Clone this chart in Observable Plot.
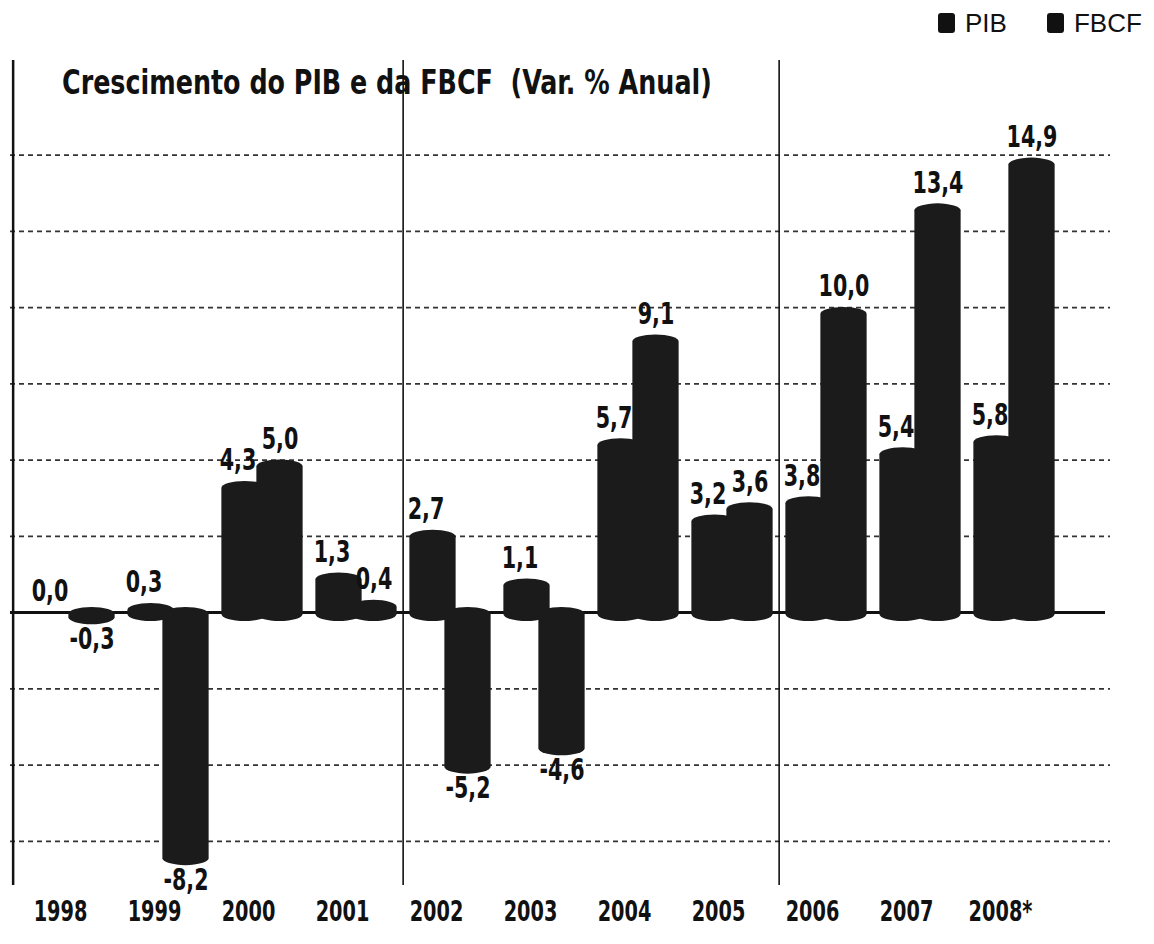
<!DOCTYPE html>
<html><head><meta charset="utf-8">
<script src="https://cdn.jsdelivr.net/npm/d3@7"></script>
<script src="https://cdn.jsdelivr.net/npm/@observablehq/plot@0.6"></script>
<style>
body{margin:0;background:#fff;}
#wrap{position:relative;width:1154px;height:944px;overflow:hidden;}
#chart{position:absolute;left:0;top:0;}
#title{position:absolute;left:62px;top:66px;font-family:"DejaVu Sans Condensed","Liberation Sans",sans-serif;font-weight:bold;font-size:33px;line-height:1;white-space:pre;color:#111;transform:scaleX(0.855);transform-origin:0 0;}
#legend{position:absolute;left:938px;top:10px;display:flex;align-items:center;font-family:"Liberation Sans",Arial,sans-serif;font-size:26px;line-height:1;color:#111;}
#legend .sw{display:inline-block;width:17px;height:20px;background:#111;border-radius:3px;margin-right:10px;}
#legend .item{display:flex;align-items:center;margin-right:40px;}
</style></head>
<body><div id="wrap"><div id="chart"></div><div id="title"></div><div id="legend"></div></div>
<script>
const years = ["1998","1999","2000","2001","2002","2003","2004","2005","2006","2007","2008*"];
const pib  = [0.0, 0.3, 4.3, 1.3, 2.7, 1.1, 5.7, 3.2, 3.8, 5.4, 5.8];
const fbcf = [-0.3, -8.2, 5.0, 0.4, -5.2, -4.6, 9.1, 3.6, 10.0, 13.4, 14.9];
const seriesNames = ["PIB", "FBCF"];
const gridValues = [-7.5, -5, -2.5, 2.5, 5, 7.5, 10, 12.5, 15];
const leftEdgeYear = ["1998"];
const separatorYears = ["2002", "2006"];
const titleText = "Crescimento do PIB e da FBCF  (Var. % Anual)";

const rows = years.flatMap((y, i) => [
  {year: y, series: seriesNames[0], value: pib[i]},
  {year: y, series: seriesNames[1], value: fbcf[i]}
]);
const fmt = v => v.toFixed(1).replace(".", ",");

const W = 1154, H = 944;
const xRange = [23, 1065];
const bw = (xRange[1] - xRange[0]) / years.length;
const barW = 47;
const inset = (bw - barW) / 2;
const off = 17.5;
const ink = "#1b1b1b";
const cond = "'DejaVu Sans Condensed','Liberation Sans',sans-serif";

function bars(name, dx) {
  const d = rows.filter(r => r.series === name && r.value !== 0);
  const common = {x: "year", y: "value", dx, insetLeft: inset, insetRight: inset, fill: ink, rx: barW / 2, ry: 7};
  return [
    Plot.barY(d.filter(r => r.value > 0), {...common, insetBottom: -9}),
    Plot.barY(d.filter(r => r.value < 0), {...common, insetTop: -5, insetBottom: -3})
  ];
}
function labels(name, dx) {
  const d = rows.filter(r => r.series === name);
  const common = {x: "year", y: "value", text: r => fmt(r.value), dx, fontSize: 31, fontWeight: "bold", fontFamily: cond, fill: "#111"};
  return [
    Plot.text(d.filter(r => r.value >= 0), {...common, dy: -21}),
    Plot.text(d.filter(r => r.value < 0), {...common, dy: 17})
  ];
}

const chart = Plot.plot({
  width: W, height: H,
  marginTop: 60, marginBottom: 59, marginLeft: 10, marginRight: 44,
  x: {type: "band", domain: years, range: xRange, padding: 0},
  y: {domain: [-8.95, 18.1], axis: null},
  style: {background: "transparent", fontFamily: cond},
  marks: [
    Plot.ruleY(gridValues, {stroke: "#333", strokeWidth: 1.8, strokeDasharray: "5,4"}),
    Plot.ruleX(leftEdgeYear, {x: d => d, dx: -(bw / 2 + 14), stroke: "#111", strokeWidth: 2.5}),
    Plot.ruleX(separatorYears, {x: d => d, dx: -bw / 2, stroke: "#111", strokeWidth: 1.6}),
    Plot.ruleY([0], {stroke: "#111", strokeWidth: 3, insetRight: 5}),
    ...bars(seriesNames[0], -off),
    ...bars(seriesNames[1], off),
    ...labels(seriesNames[0], -off - 7),
    ...labels(seriesNames[1], off),
    Plot.axisX({label: null, tickSize: 0, tickPadding: 9, fontSize: 29, fontWeight: "bold", fontFamily: cond, dx: -14, dy: 6, fill: "#111"})
  ]
});
document.getElementById("chart").appendChild(chart);

function condense(selector, factor) {
  chart.querySelectorAll(selector).forEach(t => {
    const L = t.getComputedTextLength();
    if (L > 0) {
      t.setAttribute("textLength", (L * factor).toFixed(1));
      t.setAttribute("lengthAdjust", "spacingAndGlyphs");
    }
  });
}
condense('g[aria-label="text"] text', 0.74);
condense('g[aria-label="x-axis tick label"] text', 0.74);

document.getElementById("title").textContent = titleText;
const lg = document.getElementById("legend");
seriesNames.forEach(n => {
  const it = document.createElement("span"); it.className = "item";
  const sw = document.createElement("span"); sw.className = "sw";
  it.appendChild(sw); it.appendChild(document.createTextNode(n));
  lg.appendChild(it);
});
</script></body></html>
